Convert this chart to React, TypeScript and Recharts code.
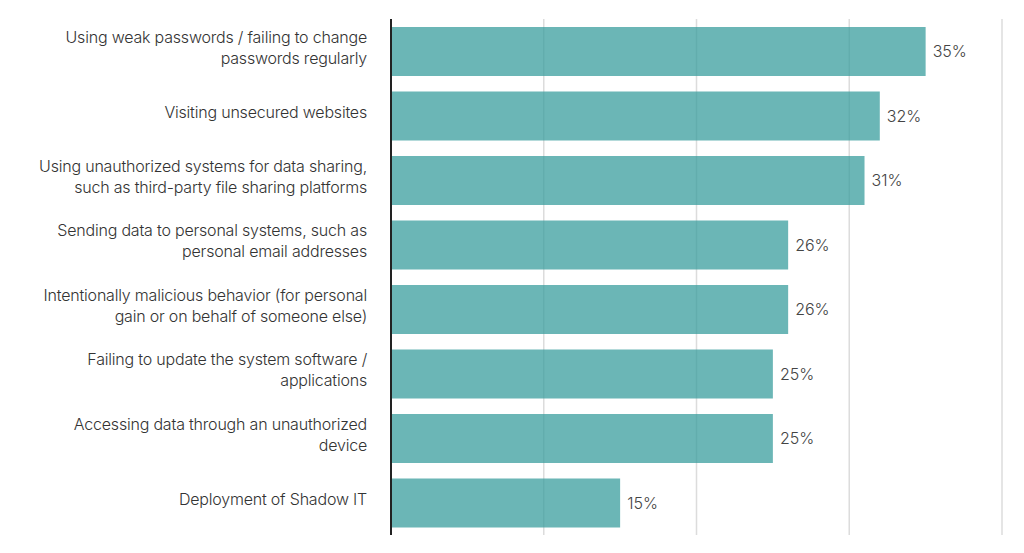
import { BarChart, Bar, XAxis, YAxis, CartesianGrid, LabelList } from 'recharts';

const categories = [
  'Using weak passwords / failing to change\npasswords regularly',
  'Visiting unsecured websites',
  'Using unauthorized systems for data sharing,\nsuch as third-party file sharing platforms',
  'Sending data to personal systems, such as\npersonal email addresses',
  'Intentionally malicious behavior (for personal\ngain or on behalf of someone else)',
  'Failing to update the system software /\napplications',
  'Accessing data through an unauthorized\ndevice',
  'Deployment of Shadow IT',
];

const shares = [35, 32, 31, 26, 26, 25, 25, 15];

const xTicks = [0, 10, 20, 30, 40];

const data = categories.map((name, i) => ({ name, value: shares[i] }));

const FONT = 'Inter, "Noto Sans", sans-serif';

// multi-line category label, right aligned against the axis
function CategoryTick({ x, y, payload }: any) {
  const lines = String(payload.value).split('\n');
  const lineH = 21;
  const startY = y - ((lines.length - 1) * lineH) / 2 - 4;
  return (
    <text
      x={x}
      y={startY}
      textAnchor="end"
      dominantBaseline="central"
      fill="#333"
      fontSize={16}
      fontWeight={300}
      fontFamily={FONT}
      letterSpacing={-0.2}
    >
      {lines.map((line, i) => (
        <tspan key={i} x={x} dy={i === 0 ? 0 : lineH}>
          {line}
        </tspan>
      ))}
    </text>
  );
}

export default function App() {
  return (
    <div style={{ position: 'absolute', left: 0, top: 0, width: 1024, height: 553, background: '#fff' }}>
      <BarChart
        width={1024}
        height={553}
        data={data}
        layout="vertical"
        margin={{ top: 19, right: 22, bottom: 18, left: 0 }}
      >
        <CartesianGrid horizontal={false} stroke="#dcdcdc" strokeWidth={1.5} />
        <XAxis type="number" domain={[0, 40]} ticks={xTicks} hide />
        <YAxis
          type="category"
          dataKey="name"
          width={391}
          tickSize={0}
          tickMargin={24}
          tickLine={false}
          axisLine={{ stroke: '#222', strokeWidth: 2 }}
          tick={<CategoryTick />}
          interval={0}
        />
        <Bar dataKey="value" fill="#3a9e9e" fillOpacity={0.75} barSize={49} isAnimationActive={false}>
          <LabelList
            dataKey="value"
            position="right"
            offset={7}
            formatter={(v: any) => `${v}%`}
            fill="#444"
            fontSize={16}
            fontWeight={300}
            fontFamily={FONT}
          />
        </Bar>
      </BarChart>
    </div>
  );
}
